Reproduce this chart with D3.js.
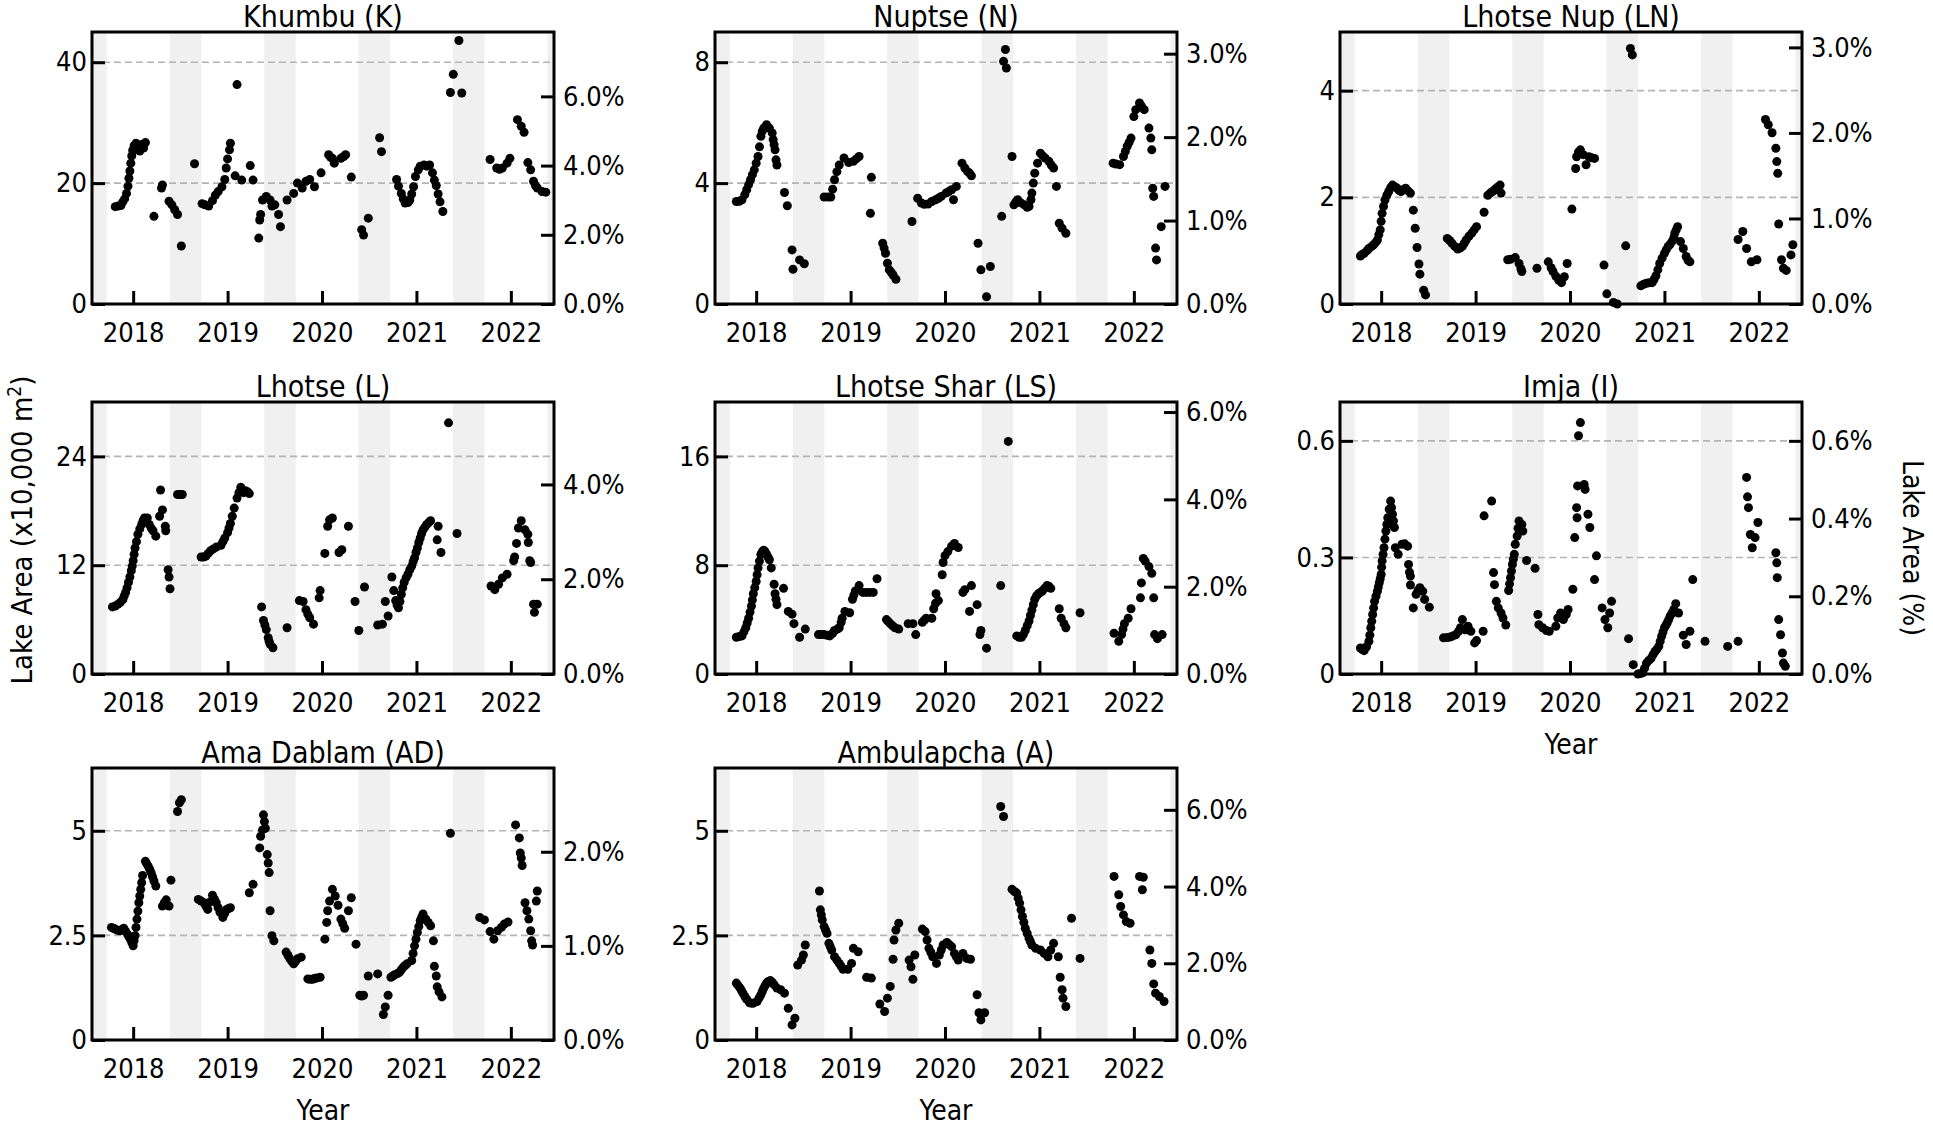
<!DOCTYPE html>
<html>
<head>
<meta charset="utf-8">
<script src="https://cdn.jsdelivr.net/npm/d3@7"></script>
<style>
body { margin: 0; background: #fff; }
svg text { font-family: "DejaVu Sans Condensed", "DejaVu Sans", sans-serif; font-stretch: condensed; fill: #000; }
</style>
</head>
<body>
<div id="chart"></div>
<script>
// lake area series: [decimal year, area (x10,000 m2)]
var khumbu = [[2017.81,16.1],[2017.84,16.2],[2017.87,16.3],[2017.89,16.9],[2017.91,17.4],[2017.93,18.3],[2017.945,19.5],[2017.955,20.8],[2017.965,22.0],[2017.975,23.3],[2017.985,24.5],[2017.995,25.4],[2018.01,26.2],[2018.03,26.6],[2018.05,25.6],[2018.07,25.3],[2018.09,26.4],[2018.11,25.8],[2018.13,26.7],
  [2018.22,14.5],[2018.30,19.2],[2018.31,19.7],[2018.38,17.0],[2018.41,16.4],[2018.44,15.6],[2018.47,14.8],[2018.51,9.6],[2018.65,23.2],
  [2018.73,16.6],[2018.76,16.4],[2018.80,16.2],[2018.84,17.1],[2018.87,18.0],[2018.90,18.6],[2018.94,19.4],[2018.97,20.6],[2018.985,22.5],[2019.00,24.0],[2019.02,25.5],[2019.03,26.6],[2019.10,36.3],[2019.08,21.2],[2019.15,20.5],[2019.24,22.9],[2019.27,20.5],
  [2019.33,10.9],[2019.34,13.9],[2019.35,14.8],[2019.37,17.2],[2019.41,17.8],[2019.45,17.2],[2019.47,16.2],[2019.50,16.4],[2019.54,14.8],[2019.56,12.8],
  [2019.63,17.2],[2019.70,18.3],[2019.74,20.0],[2019.79,19.2],[2019.83,20.3],[2019.87,20.6],[2019.92,19.4],[2019.99,21.7],[2020.07,24.7],[2020.09,24.3],[2020.11,24.1],[2020.13,23.3],[2020.20,24.1],[2020.23,24.4],[2020.25,24.7],[2020.31,21.0],
  [2020.42,12.3],[2020.44,11.4],[2020.49,14.2],[2020.61,27.5],[2020.63,25.2],
  [2020.79,20.6],[2020.81,19.5],[2020.84,18.3],[2020.86,17.4],[2020.88,16.7],[2020.91,16.8],[2020.93,17.2],[2020.95,18.2],[2020.97,19.4],[2020.99,21.1],[2021.02,22.2],[2021.04,22.8],[2021.08,23.0],[2021.11,22.8],[2021.14,23.0],[2021.17,21.7],[2021.19,20.5],[2021.21,19.6],[2021.23,18.2],[2021.25,16.9],[2021.28,15.3],
  [2021.36,35.0],[2021.39,38.0],[2021.45,43.6],[2021.48,34.9],
  [2021.78,23.9],[2021.85,22.5],[2021.88,22.3],[2021.91,22.5],[2021.96,23.3],[2021.99,24.1],[2022.07,30.5],[2022.11,29.4],[2022.14,28.4],[2022.18,23.4],[2022.21,22.2],[2022.24,20.3],[2022.26,19.6],[2022.28,19.2],[2022.33,18.6],[2022.37,18.5]];

var nuptse = [[2017.79,3.39],[2017.82,3.40],[2017.85,3.45],[2017.88,3.62],[2017.90,3.78],[2017.92,3.95],[2017.94,4.11],[2017.96,4.28],[2017.98,4.44],[2018.00,4.66],[2018.02,4.88],[2018.035,5.2],[2018.05,5.55],[2018.065,5.72],[2018.08,5.82],[2018.11,5.93],[2018.14,5.82],[2018.17,5.66],[2018.18,5.44],[2018.19,5.27],[2018.20,5.10],[2018.21,4.77],[2018.22,4.6],
  [2018.30,3.69],[2018.33,3.25],[2018.38,1.79],[2018.39,1.15],[2018.46,1.46],[2018.51,1.33],
  [2018.72,3.54],[2018.76,3.54],[2018.79,3.54],[2018.81,3.8],[2018.83,4.11],[2018.855,4.38],[2018.88,4.6],[2018.93,4.83],[2018.98,4.68],[2019.03,4.72],[2019.06,4.8],[2019.09,4.88],
  [2019.21,3.0],[2019.22,4.19],
  [2019.34,2.01],[2019.355,1.85],[2019.37,1.68],[2019.39,1.35],[2019.41,1.13],[2019.43,1.05],[2019.45,0.96],[2019.48,0.82],
  [2019.65,2.73],
  [2019.71,3.50],[2019.75,3.34],[2019.78,3.30],[2019.82,3.31],[2019.86,3.39],[2019.90,3.45],[2019.93,3.50],[2019.96,3.56],[2020.01,3.67],[2020.04,3.72],[2020.07,3.78],[2020.09,3.45],[2020.12,3.89],
  [2020.18,4.66],[2020.21,4.5],[2020.24,4.38],[2020.26,4.33],[2020.28,4.24],
  [2020.35,2.01],[2020.38,1.13],[2020.44,0.24],[2020.48,1.24],
  [2020.60,2.90],[2020.62,8.03],[2020.64,8.42],[2020.65,7.81],[2020.71,4.88],
  [2020.73,3.28],[2020.75,3.38],[2020.77,3.45],[2020.80,3.35],[2020.84,3.28],[2020.87,3.20],[2020.89,3.23],[2020.91,3.45],[2020.92,3.67],[2020.935,4.0],[2020.95,4.33],[2020.98,4.66],[2021.01,4.99],[2021.035,4.9],[2021.06,4.83],[2021.10,4.72],[2021.125,4.6],[2021.15,4.5],[2021.18,3.89],
  [2021.21,2.67],[2021.24,2.51],[2021.28,2.34],
  [2021.78,4.66],[2021.81,4.63],[2021.85,4.61],[2021.89,4.88],[2021.91,5.05],[2021.93,5.22],[2021.95,5.35],[2021.97,5.49],[2022.00,6.2],[2022.02,6.43],[2022.06,6.65],[2022.08,6.55],[2022.11,6.43],
  [2022.16,5.82],[2022.18,5.49],[2022.19,5.10],[2022.20,3.83],[2022.21,3.56],[2022.23,1.85],[2022.24,1.46],[2022.29,2.56],[2022.33,3.89]];

var lhotseNup = [[2017.78,0.90],[2017.80,0.93],[2017.82,0.95],[2017.85,1.0],[2017.87,1.04],[2017.90,1.08],[2017.92,1.11],[2017.94,1.15],[2017.96,1.20],[2017.975,1.3],[2017.99,1.39],[2018.00,1.55],[2018.01,1.70],[2018.025,1.83],[2018.04,1.95],[2018.06,2.04],[2018.08,2.11],[2018.10,2.18],[2018.12,2.23],[2018.145,2.2],[2018.17,2.17],[2018.19,2.13],[2018.21,2.11],[2018.24,2.15],[2018.26,2.17],[2018.285,2.12],[2018.31,2.08],
  [2018.34,1.76],[2018.36,1.42],[2018.38,1.06],[2018.40,0.75],[2018.41,0.56],[2018.45,0.26],[2018.47,0.17],
  [2018.70,1.23],[2018.725,1.19],[2018.75,1.14],[2018.78,1.08],[2018.81,1.03],[2018.835,1.05],[2018.86,1.08],[2018.88,1.14],[2018.90,1.20],[2018.93,1.27],[2018.96,1.33],[2018.985,1.39],[2019.01,1.45],[2019.09,1.72],
  [2019.13,2.04],[2019.155,2.08],[2019.18,2.11],[2019.20,2.14],[2019.22,2.17],[2019.24,2.2],[2019.26,2.23],[2019.27,2.08],
  [2019.34,0.83],[2019.37,0.84],[2019.42,0.87],[2019.46,0.76],[2019.48,0.66],[2019.49,0.61],
  [2019.65,0.67],[2019.77,0.79],[2019.80,0.68],[2019.82,0.61],[2019.85,0.52],[2019.88,0.45],[2019.91,0.40],[2019.94,0.51],[2019.97,0.76],
  [2020.02,1.78],[2020.06,2.54],[2020.07,2.76],[2020.09,2.85],[2020.11,2.89],[2020.14,2.8],[2020.17,2.61],[2020.20,2.76],[2020.23,2.74],[2020.26,2.73],
  [2020.36,0.73],[2020.39,0.19],[2020.46,0.03],[2020.50,0.0],
  [2020.59,1.09],[2020.64,4.79],[2020.66,4.67],
  [2020.75,0.34],[2020.78,0.37],[2020.81,0.39],[2020.84,0.40],[2020.87,0.40],[2020.89,0.46],[2020.91,0.53],[2020.93,0.64],[2020.95,0.76],[2020.975,0.86],[2021.00,0.95],[2021.02,1.02],[2021.04,1.08],[2021.06,1.12],[2021.08,1.17],[2021.10,1.25],[2021.11,1.33],[2021.125,1.39],[2021.14,1.45],[2021.17,1.17],[2021.20,1.04],[2021.23,0.89],[2021.25,0.82],[2021.27,0.79],
  [2021.78,1.21],[2021.83,1.36],[2021.87,1.04],[2021.92,0.79],[2021.98,0.83],
  [2022.07,3.46],[2022.10,3.36],[2022.14,3.21],[2022.18,2.92],[2022.19,2.67],[2022.20,2.45],[2022.21,1.50],
  [2022.24,0.83],[2022.26,0.67],[2022.29,0.63],[2022.34,0.92],[2022.36,1.11]];

var lhotse = [[2017.78,7.4],[2017.81,7.5],[2017.84,7.7],[2017.865,7.9],[2017.89,8.2],[2017.905,8.6],[2017.92,9.0],[2017.935,9.5],[2017.95,10.1],[2017.965,10.7],[2017.98,11.4],[2017.99,11.9],[2018.00,12.5],[2018.01,13.2],[2018.02,13.9],[2018.035,14.6],[2018.05,15.4],[2018.07,16.0],[2018.09,16.5],[2018.105,16.9],[2018.12,17.2],[2018.15,17.2],[2018.17,16.5],[2018.19,16.1],[2018.21,15.8],[2018.24,15.2],
  [2018.28,17.4],[2018.29,20.3],[2018.31,18.1],[2018.34,16.3],[2018.345,15.8],[2018.37,11.5],[2018.38,10.7],[2018.39,9.4],[2018.47,19.8],[2018.50,19.8],[2018.52,19.8],
  [2018.72,12.9],[2018.745,12.9],[2018.77,13.0],[2018.795,13.3],[2018.82,13.6],[2018.85,13.8],[2018.88,14.0],[2018.93,14.2],[2018.95,14.6],[2018.97,15.0],[2019.00,15.6],[2019.015,16.1],[2019.03,16.6],[2019.05,17.4],[2019.07,18.3],[2019.10,19.4],[2019.12,20.0],[2019.14,20.6],[2019.17,20.0],[2019.19,20.2],[2019.21,20.1],[2019.23,19.9],
  [2019.36,7.4],[2019.38,5.9],[2019.395,5.4],[2019.41,4.9],[2019.43,4.0],[2019.44,3.6],[2019.45,3.3],[2019.48,2.9],
  [2019.63,5.1],[2019.76,8.1],[2019.80,8.0],[2019.83,7.1],[2019.85,6.6],[2019.87,6.2],[2019.91,5.5],
  [2019.97,8.4],[2019.98,9.2],[2020.03,13.3],[2020.06,16.3],[2020.08,17.0],[2020.11,17.2],[2020.18,13.4],[2020.21,13.7],[2020.28,16.3],
  [2020.35,8.0],[2020.39,4.8],[2020.45,9.6],
  [2020.59,5.4],[2020.64,5.5],[2020.67,8.0],[2020.70,6.4],[2020.74,10.7],
  [2020.76,9.2],[2020.78,8.1],[2020.795,7.6],[2020.81,7.3],[2020.825,8.0],[2020.84,8.8],[2020.855,9.5],[2020.87,10.1],[2020.89,10.6],[2020.91,11.0],[2020.93,11.5],[2020.95,11.9],[2020.965,12.4],[2020.98,12.8],[2020.995,13.4],[2021.01,13.9],[2021.025,14.5],[2021.04,15.0],[2021.055,15.5],[2021.07,15.9],[2021.09,16.2],[2021.11,16.5],[2021.13,16.7],[2021.15,16.9],
  [2021.22,14.8],[2021.23,16.3],[2021.26,13.4],[2021.34,27.7],[2021.43,15.5],
  [2021.79,9.7],[2021.83,9.3],[2021.87,9.9],[2021.91,10.6],[2021.96,11.0],[2022.03,12.5],[2022.04,12.9],[2022.06,14.4],[2022.08,16.1],[2022.11,16.9],[2022.15,15.9],[2022.18,15.4],[2022.185,14.5],[2022.20,12.5],[2022.21,12.3],[2022.24,7.7],[2022.25,6.8],[2022.28,7.7]];

var lhotseShar = [[2017.79,2.7],[2017.82,2.75],[2017.85,2.8],[2017.87,3.1],[2017.89,3.4],[2017.905,3.75],[2017.92,4.1],[2017.935,4.55],[2017.95,5.0],[2017.96,5.45],[2017.97,5.9],[2017.985,6.35],[2018.00,6.8],[2018.01,7.3],[2018.02,7.8],[2018.035,8.3],[2018.05,8.8],[2018.065,9.0],[2018.08,9.1],[2018.095,9.0],[2018.11,8.8],[2018.125,8.6],[2018.14,8.4],[2018.16,7.8],
  [2018.19,6.6],[2018.20,5.9],[2018.21,5.5],[2018.22,5.1],[2018.29,6.3],[2018.34,4.6],[2018.38,4.4],[2018.40,3.7],[2018.46,2.7],[2018.52,3.3],
  [2018.66,2.9],[2018.69,2.9],[2018.72,2.9],[2018.75,2.85],[2018.78,2.8],[2018.81,3.0],[2018.83,3.2],[2018.86,3.3],[2018.88,3.4],[2018.90,3.8],[2018.91,4.1],[2018.94,4.6],[2018.99,4.5],[2019.02,5.5],[2019.035,5.8],[2019.05,6.1],[2019.09,6.5],[2019.13,6.0],[2019.165,6.0],[2019.20,6.0],[2019.24,6.0],[2019.28,7.0],
  [2019.38,4.0],[2019.40,3.85],[2019.42,3.7],[2019.445,3.55],[2019.47,3.4],[2019.51,3.3],[2019.61,3.7],[2019.66,3.7],[2019.69,2.9],[2019.76,3.8],[2019.78,3.95],[2019.80,4.1],[2019.86,4.1],[2019.88,4.8],[2019.90,5.2],[2019.905,5.9],[2019.93,5.4],
  [2019.97,7.3],[2019.98,8.2],[2020.00,8.7],[2020.03,9.0],[2020.07,9.4],[2020.10,9.6],[2020.14,9.3],
  [2020.19,6.0],[2020.21,6.2],[2020.26,4.6],[2020.28,6.5],[2020.34,5.1],[2020.37,2.9],[2020.38,3.2],[2020.44,1.9],
  [2020.59,6.5],[2020.67,17.1],
  [2020.76,2.8],[2020.785,2.7],[2020.81,2.7],[2020.83,2.9],[2020.85,3.2],[2020.87,3.55],[2020.89,3.9],[2020.905,4.3],[2020.92,4.7],[2020.935,5.1],[2020.95,5.5],[2020.97,5.75],[2020.99,5.9],[2021.01,6.0],[2021.03,6.1],[2021.055,6.3],[2021.08,6.5],[2021.10,6.45],[2021.12,6.3],
  [2021.21,4.8],[2021.23,4.1],[2021.26,3.7],[2021.28,3.4],[2021.43,4.5],
  [2021.79,3.0],[2021.84,2.4],[2021.87,2.9],[2021.885,3.3],[2021.90,3.7],[2021.94,4.1],[2021.97,4.8],[2022.07,5.6],[2022.08,6.7],[2022.10,8.5],[2022.12,8.3],[2022.16,7.9],[2022.19,7.4],[2022.21,5.6],[2022.22,2.9],[2022.25,2.6],[2022.30,2.9]];

var imja = [[2017.78,0.067],[2017.80,0.063],[2017.82,0.060],[2017.845,0.070],[2017.87,0.084],[2017.88,0.10],[2017.89,0.119],[2017.90,0.136],[2017.91,0.153],[2017.92,0.170],[2017.93,0.187],[2017.945,0.200],[2017.96,0.213],[2017.97,0.224],[2017.98,0.235],[2017.99,0.245],[2018.00,0.256],[2018.005,0.275],[2018.01,0.291],[2018.02,0.308],[2018.03,0.325],[2018.04,0.347],[2018.05,0.368],[2018.06,0.385],[2018.07,0.402],[2018.085,0.424],[2018.10,0.445],[2018.11,0.428],[2018.12,0.411],[2018.13,0.394],[2018.14,0.377],
  [2018.15,0.325],[2018.18,0.308],[2018.22,0.334],[2018.25,0.335],[2018.28,0.329],[2018.29,0.282],[2018.30,0.262],[2018.31,0.252],[2018.31,0.229],[2018.34,0.170],[2018.37,0.205],[2018.39,0.215],[2018.41,0.222],[2018.44,0.213],[2018.46,0.192],[2018.51,0.172],
  [2018.66,0.093],[2018.70,0.094],[2018.73,0.095],[2018.76,0.098],[2018.79,0.101],[2018.82,0.110],[2018.84,0.119],[2018.86,0.140],[2018.89,0.114],[2018.92,0.123],[2018.95,0.110],
  [2018.99,0.080],[2019.01,0.086],[2019.08,0.110],[2019.09,0.407],[2019.17,0.445],[2019.19,0.261],[2019.20,0.230],[2019.22,0.187],[2019.24,0.170],[2019.27,0.157],[2019.29,0.144],[2019.32,0.126],
  [2019.35,0.215],[2019.36,0.232],[2019.37,0.248],[2019.38,0.265],[2019.39,0.282],[2019.40,0.295],[2019.41,0.308],[2019.42,0.334],[2019.44,0.355],[2019.45,0.375],[2019.46,0.394],[2019.49,0.385],[2019.50,0.368],
  [2019.54,0.292],[2019.63,0.272],[2019.66,0.153],[2019.67,0.127],[2019.71,0.119],[2019.75,0.112],[2019.78,0.110],
  [2019.85,0.123],[2019.87,0.144],[2019.90,0.157],[2019.93,0.140],[2019.96,0.153],[2019.98,0.166],
  [2020.03,0.218],[2020.05,0.351],[2020.07,0.428],[2020.075,0.402],[2020.08,0.484],[2020.09,0.613],[2020.11,0.647],[2020.15,0.488],[2020.16,0.475],[2020.19,0.411],[2020.21,0.377],[2020.26,0.243],[2020.28,0.304],
  [2020.34,0.170],[2020.37,0.140],[2020.40,0.119],[2020.42,0.157],[2020.44,0.187],
  [2020.62,0.091],[2020.67,0.024],
  [2020.72,0.0],[2020.745,0.001],[2020.77,0.003],[2020.79,0.015],[2020.81,0.028],[2020.835,0.035],[2020.86,0.041],[2020.88,0.050],[2020.90,0.058],[2020.92,0.064],[2020.94,0.071],[2020.955,0.084],[2020.97,0.097],[2020.985,0.108],[2021.00,0.119],[2021.015,0.125],[2021.03,0.132],[2021.045,0.140],[2021.06,0.149],[2021.08,0.157],[2021.10,0.166],[2021.12,0.181],[2021.15,0.157],
  [2021.20,0.100],[2021.23,0.076],[2021.27,0.110],[2021.30,0.243],
  [2021.43,0.084],[2021.67,0.071],[2021.78,0.084],
  [2021.87,0.506],[2021.88,0.456],[2021.89,0.428],[2021.91,0.359],[2021.93,0.325],[2021.96,0.351],[2021.99,0.390],
  [2022.18,0.312],[2022.19,0.286],[2022.195,0.248],[2022.21,0.140],[2022.23,0.101],[2022.25,0.054],[2022.26,0.028],[2022.28,0.020]];

var amaDablam = [[2017.77,2.69],[2017.79,2.67],[2017.81,2.65],[2017.835,2.62],[2017.86,2.61],[2017.88,2.64],[2017.90,2.67],[2017.92,2.60],[2017.94,2.53],[2017.955,2.47],[2017.97,2.41],[2017.985,2.33],[2018.00,2.25],[2018.01,2.37],[2018.02,2.49],[2018.03,2.69],[2018.04,2.89],[2018.05,3.08],[2018.06,3.28],[2018.07,3.44],[2018.08,3.60],[2018.09,3.76],[2018.10,3.93],
  [2018.13,4.27],[2018.145,4.21],[2018.16,4.15],[2018.175,4.08],[2018.19,4.00],[2018.205,3.90],[2018.22,3.80],[2018.24,3.68],
  [2018.31,3.20],[2018.33,3.28],[2018.35,3.35],[2018.38,3.20],[2018.40,3.82],
  [2018.47,5.46],[2018.49,5.67],[2018.51,5.74],
  [2018.69,3.36],[2018.72,3.32],[2018.75,3.28],[2018.77,3.20],[2018.79,3.12],[2018.815,3.30],[2018.84,3.46],[2018.86,3.37],[2018.88,3.28],[2018.90,3.16],[2018.92,3.05],[2018.95,2.93],[2018.97,3.03],[2018.99,3.12],[2019.01,3.14],[2019.03,3.16],
  [2019.23,3.52],[2019.27,3.72],[2019.34,4.59],[2019.35,4.87],[2019.37,5.02],[2019.38,5.38],[2019.39,5.22],[2019.40,5.06],
  [2019.42,4.43],[2019.43,4.23],[2019.44,4.00],[2019.45,3.09],[2019.47,2.49],[2019.49,2.37],
  [2019.62,2.10],[2019.64,2.02],[2019.66,1.94],[2019.68,1.88],[2019.70,1.82],[2019.72,1.88],[2019.74,1.94],[2019.78,1.98],
  [2019.85,1.46],[2019.875,1.45],[2019.90,1.45],[2019.92,1.47],[2019.94,1.48],[2019.98,1.50],
  [2020.03,2.41],[2020.05,2.81],[2020.06,3.09],[2020.08,3.32],[2020.11,3.60],[2020.14,3.44],[2020.17,3.22],[2020.20,2.89],[2020.22,2.78],[2020.24,2.67],[2020.28,3.09],[2020.31,3.40],[2020.36,2.29],
  [2020.40,1.07],[2020.42,1.05],[2020.44,1.07],[2020.49,1.53],[2020.59,1.58],[2020.65,0.61],[2020.67,0.79],[2020.70,1.07],
  [2020.73,1.50],[2020.75,1.53],[2020.77,1.56],[2020.80,1.59],[2020.82,1.62],[2020.84,1.68],[2020.86,1.74],[2020.88,1.78],[2020.90,1.82],[2020.95,1.90],[2020.965,2.07],[2020.98,2.25],[2020.995,2.41],[2021.01,2.57],[2021.025,2.71],[2021.04,2.85],[2021.055,2.93],[2021.07,3.01],[2021.10,2.89],[2021.125,2.81],[2021.15,2.73],
  [2021.18,2.37],[2021.19,1.76],[2021.21,1.53],[2021.22,1.27],[2021.24,1.15],[2021.27,1.03],
  [2021.36,4.94],
  [2021.67,2.93],[2021.72,2.87],[2021.78,2.59],[2021.82,2.41],[2021.86,2.61],[2021.90,2.69],[2021.93,2.77],[2021.97,2.82],
  [2022.05,5.14],[2022.09,4.83],[2022.10,4.47],[2022.11,4.35],[2022.12,4.17],
  [2022.15,3.28],[2022.17,3.09],[2022.19,2.89],[2022.21,2.61],[2022.22,2.37],[2022.23,2.27],[2022.27,3.32],[2022.28,3.56]];

var ambulapcha = [[2017.79,1.36],[2017.81,1.30],[2017.83,1.24],[2017.845,1.18],[2017.86,1.12],[2017.88,1.04],[2017.90,0.97],[2017.93,0.89],[2017.95,0.88],[2017.97,0.88],[2018.01,0.92],[2018.03,1.0],[2018.05,1.08],[2018.065,1.16],[2018.08,1.24],[2018.095,1.30],[2018.11,1.36],[2018.13,1.40],[2018.15,1.42],[2018.17,1.38],[2018.19,1.32],[2018.22,1.24],[2018.26,1.20],[2018.30,1.12],
  [2018.34,0.76],[2018.38,0.36],[2018.41,0.52],
  [2018.44,1.79],[2018.48,1.91],[2018.50,2.03],[2018.52,2.27],
  [2018.67,3.56],[2018.68,3.11],[2018.69,2.99],[2018.70,2.87],[2018.72,2.71],[2018.735,2.63],[2018.75,2.55],[2018.77,2.31],[2018.785,2.23],[2018.80,2.15],[2018.83,1.99],[2018.855,1.91],[2018.88,1.83],[2018.90,1.76],[2018.92,1.69],[2018.97,1.69],[2019.01,1.83],
  [2019.03,2.19],[2019.08,2.11],
  [2019.17,1.50],[2019.22,1.48],
  [2019.31,0.86],[2019.36,0.68],[2019.39,1.00],[2019.42,1.28],[2019.45,1.93],[2019.46,2.39],[2019.48,2.63],[2019.51,2.79],
  [2019.62,1.91],[2019.64,1.75],[2019.66,1.45],[2019.68,2.03],
  [2019.76,2.65],[2019.79,2.59],[2019.81,2.39],[2019.83,2.19],[2019.85,2.09],[2019.87,1.99],[2019.91,1.83],[2019.94,2.03],[2019.96,2.15],[2019.98,2.27],[2020.02,2.33],[2020.045,2.28],[2020.07,2.23],[2020.10,2.07],[2020.12,1.99],[2020.14,1.91],[2020.19,2.07],[2020.23,1.95],[2020.27,1.93],
  [2020.34,1.08],[2020.36,0.65],[2020.38,0.48],[2020.42,0.65],
  [2020.59,5.58],[2020.62,5.34],
  [2020.71,3.60],[2020.735,3.55],[2020.76,3.51],[2020.775,3.39],[2020.79,3.27],[2020.805,3.11],[2020.82,2.95],[2020.835,2.81],[2020.85,2.67],[2020.87,2.55],[2020.89,2.43],[2020.905,2.35],[2020.92,2.27],[2020.96,2.19],[2021.01,2.15],[2021.05,2.07],[2021.09,1.99],[2021.12,2.15],[2021.15,2.31],
  [2021.20,1.99],[2021.22,1.50],[2021.24,1.20],[2021.25,1.00],[2021.28,0.80],
  [2021.34,2.91],[2021.43,1.95],
  [2021.79,3.91],[2021.84,3.47],[2021.86,3.19],[2021.89,2.99],[2021.92,2.83],[2021.96,2.79],
  [2022.06,3.91],[2022.10,3.89],[2022.09,3.59],
  [2022.17,2.15],[2022.19,1.83],[2022.21,1.34],[2022.23,1.12],[2022.27,1.04],[2022.32,0.92]];

var lakeNames = ["Khumbu (K)", "Nuptse (N)", "Lhotse Nup (LN)", "Lhotse (L)", "Lhotse Shar (LS)", "Imja (I)", "Ama Dablam (AD)", "Ambulapcha (A)"];
var lakeSeries = [khumbu, nuptse, lhotseNup, lhotse, lhotseShar, imja, amaDablam, ambulapcha];
var areaMax = [45, 9, 5.1, 30, 20, 0.7, 6.5, 6.5];
var pctMax = [7.86, 3.26, 3.18, 5.74, 6.23, 0.70, 2.89, 7.09];
var areaTicks = [[0, 20, 40], [0, 4, 8], [0, 2, 4], [0, 12, 24], [0, 8, 16], [0, 0.3, 0.6], [0, 2.5, 5], [0, 2.5, 5]];
var pctTicks = [[0, 2, 4, 6], [0, 1, 2, 3], [0, 1, 2, 3], [0, 2, 4], [0, 2, 4, 6], [0, 0.2, 0.4, 0.6], [0, 1, 2], [0, 2, 4, 6]];
var yearTicks = [2018, 2019, 2020, 2021, 2022];
var timeSpan = [2017.564, 2022.457];
// monsoon season (grey bands), as fraction of year
var bandStart = 0.387, bandEnd = 0.722;
var bandYears = [2017, 2018, 2019, 2020, 2021, 2022];

var W = 1933, H = 1127;
var colLeft = [92, 715, 1340], rowTop = [32, 402, 768];
var pw = 462, ph = 272;
var fontFam = '"DejaVu Sans Condensed", "DejaVu Sans", sans-serif';

var svg = d3.select("#chart").append("svg")
    .attr("width", W)
    .attr("height", H);

lakeNames.forEach(function (name, i) {
    var gx = colLeft[i % 3], gy = rowTop[Math.floor(i / 3)];
    var g = svg.append("g").attr("transform", "translate(" + gx + "," + gy + ")");

    var x = d3.scaleLinear().domain(timeSpan).range([0, pw]);
    var y = d3.scaleLinear().domain([0, areaMax[i]]).range([ph, 0]);
    var yp = d3.scaleLinear().domain([0, pctMax[i]]).range([ph, 0]);

    // monsoon bands
    g.selectAll("rect.band").data(bandYears).enter().append("rect")
        .attr("class", "band")
        .attr("x", function (d) { return x(Math.max(d + bandStart, timeSpan[0])); })
        .attr("width", function (d) { return x(Math.min(d + bandEnd, timeSpan[1])) - x(Math.max(d + bandStart, timeSpan[0])); })
        .attr("y", 0)
        .attr("height", ph)
        .attr("fill", "#f0f0f0");

    // dashed grid
    g.selectAll("line.grid").data(areaTicks[i].filter(function (v) { return v > 0; })).enter().append("line")
        .attr("class", "grid")
        .attr("x1", 0).attr("x2", pw)
        .attr("y1", function (d) { return y(d); })
        .attr("y2", function (d) { return y(d); })
        .attr("stroke", "#b4b4b4")
        .attr("stroke-width", 1.6)
        .attr("stroke-dasharray", "7,4");

    // dots
    g.selectAll("circle").data(lakeSeries[i]).enter().append("circle")
        .attr("cx", function (d) { return x(d[0]); })
        .attr("cy", function (d) { return y(d[1]); })
        .attr("r", 4.5)
        .attr("fill", "#000");

    // axes, ticks pointing in
    var ax = g.append("g").attr("transform", "translate(0," + ph + ")")
        .call(d3.axisBottom(x).tickValues(yearTicks).tickFormat(d3.format("d")).tickSize(-13).tickPadding(19));
    var ay = g.append("g")
        .call(d3.axisLeft(y).tickValues(areaTicks[i]).tickFormat(function (d) { return String(d); }).tickSize(-13).tickPadding(5));
    var ayp = g.append("g").attr("transform", "translate(" + pw + ",0)")
        .call(d3.axisRight(yp).tickValues(pctTicks[i]).tickFormat(function (d) { return d3.format(".1f")(d) + "%"; }).tickSize(-13).tickPadding(9));

    [ax, ay, ayp].forEach(function (a) {
        a.attr("font-family", fontFam).attr("font-size", 27);
        a.select(".domain").remove();
        a.selectAll(".tick line").attr("stroke-width", 3);
    });

    // frame
    g.append("rect")
        .attr("x", 0).attr("y", 0)
        .attr("width", pw).attr("height", ph)
        .attr("fill", "none")
        .attr("stroke", "#000")
        .attr("stroke-width", 3);

    // title
    g.append("text")
        .attr("x", pw / 2)
        .attr("y", -5)
        .attr("text-anchor", "middle")
        .attr("font-size", 30)
        .text(name);

    // x axis label under bottom-most panel of each column
    if (i >= 5) {
        g.append("text")
            .attr("x", pw / 2)
            .attr("y", ph + 80)
            .attr("text-anchor", "middle")
            .attr("font-size", 28)
            .text("Year");
    }
});

// shared y labels
var yl = svg.append("text")
    .attr("transform", "translate(32,530) rotate(-90)")
    .attr("text-anchor", "middle")
    .attr("font-size", 29);
yl.append("tspan").text("Lake Area (x10,000 m");
yl.append("tspan").attr("baseline-shift", "super").attr("font-size", 19).text("2");
yl.append("tspan").text(")");

svg.append("text")
    .attr("transform", "translate(1903,548) rotate(90)")
    .attr("text-anchor", "middle")
    .attr("font-size", 28)
    .text("Lake Area (%)");
</script>
</body>
</html>
